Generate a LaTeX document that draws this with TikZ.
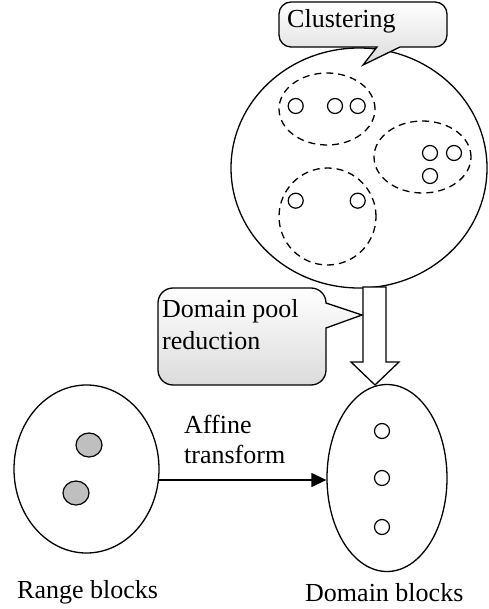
\documentclass[tikz,border=0pt]{standalone}
\usepackage{fontspec}
\setmainfont{Liberation Serif}
\usetikzlibrary{shapes.geometric,arrows.meta}
\tikzset{
  lbl/.style={font=\fontsize{26}{31}\selectfont, anchor=base west, inner sep=0pt, align=left},
  outl/.style={draw=black, line width=1.3pt},
  dot/.style={circle, draw=black, line width=1.2pt, minimum size=15pt, inner sep=0pt, fill=white},
  greydot/.style={ellipse, draw=black, line width=1.2pt, minimum width=26pt, minimum height=24pt, inner sep=0pt, fill=gray!50},
  cluster/.style={ellipse, draw=black, line width=1.3pt, dash pattern=on 7pt off 5pt, inner sep=0pt},
  bubble/.style={draw=black, line width=1.3pt, top color=white, bottom color=black!14, line join=miter},
}
\begin{document}
\begin{tikzpicture}[x=1pt,y=-1pt]
\useasboundingbox (0,0) rectangle (488,609);
\clip (0,0) rectangle (488,609);

% big cluster circle
\node (big) [ellipse, outl, fill=white, minimum width=256pt, minimum height=240pt, inner sep=0pt] at (359,168) {};
\node (c1) [cluster, minimum width=96pt, minimum height=72pt] at (327,109) {};
\node (c2) [cluster, minimum width=97pt, minimum height=72pt] at (422.5,157) {};
\node (c3) [cluster, minimum width=97pt, minimum height=97pt] at (327.5,216.5) {};
\node (d1) [dot] at (295.7,106) {};
\node (d2) [dot] at (335,106) {};
\node (d3) [dot] at (357.7,106) {};
\node (d4) [dot] at (430,153) {};
\node (d5) [dot] at (454,153) {};
\node (d6) [dot] at (430,176) {};
\node (d7) [dot] at (295.7,200.7) {};
\node (d8) [dot] at (357.7,200.7) {};

% Clustering callout
\path[bubble] (291,2) -- (435,2) .. controls (441.6,2) and (447,7.4) .. (447,14)
  -- (447,35) .. controls (447,41.6) and (441.6,47) .. (435,47)
  -- (400,47) -- (363,65) -- (377,47)
  -- (291,47) .. controls (284.4,47) and (279,41.6) .. (279,35)
  -- (279,14) .. controls (279,7.4) and (284.4,2) .. (291,2) -- cycle;
\node (clu) [lbl] at (287,28) {Clustering};

% hollow arrow
\path[outl, fill=white] (363,287) -- (363,362) -- (351,362) -- (375,385) -- (399,362) -- (386,362) -- (386,287) -- cycle;

% Domain pool reduction callout
\path[bubble] (173,288) -- (311,288) .. controls (319.3,288) and (326,294.7) .. (326,303)
  -- (362,315) -- (326,328)
  -- (326,370) .. controls (326,378.3) and (319.3,385) .. (311,385)
  -- (173,385) .. controls (164.7,385) and (158,378.3) .. (158,370)
  -- (158,303) .. controls (158,294.7) and (164.7,288) .. (173,288) -- cycle;
\node (dpr) [lbl, font=\fontsize{26}{32}\selectfont] at (162,349) {Domain pool\\reduction};

% range blocks
\node (rng) [ellipse, outl, minimum width=145pt, minimum height=168pt, inner sep=0pt] at (86.5,469) {};
\node (g1) [greydot] at (89,445) {};
\node (g2) [greydot] at (76,493) {};
\node (rlab) [lbl] at (17,598) {Range blocks};

% domain blocks
\node (dom) [ellipse, outl, minimum width=120pt, minimum height=187pt, inner sep=0pt] at (387,478) {};
\node (e1) [dot] at (382,431) {};
\node (e2) [dot] at (382,478) {};
\node (e3) [dot] at (382,527) {};
\begin{scope}
\clip (0,0) rectangle (488,602);
\node (dlab) [lbl] at (305,601) {Domain blocks};
\end{scope}

% affine transform arrow
\coordinate (a0) at (158.5,480);
\draw[line width=1.3pt, -{Triangle[length=15pt, width=14pt]}] (a0) -- (a0 -| dom.west);
\node (aff) [lbl, font=\fontsize{26}{30}\selectfont] at (184,463) {Affine\\transform};
\end{tikzpicture}
\end{document}
